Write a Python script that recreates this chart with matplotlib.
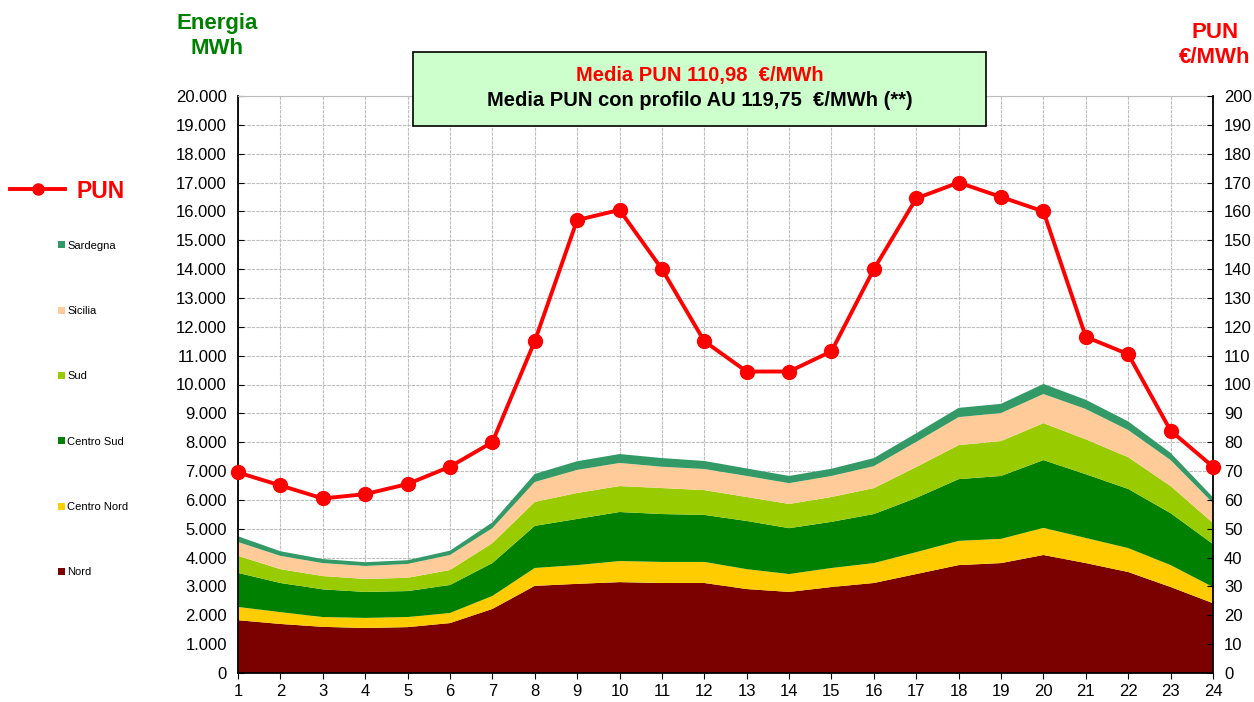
import numpy as np
import matplotlib
matplotlib.use("Agg")
import matplotlib.pyplot as plt
from matplotlib.lines import Line2D
from matplotlib.patches import Patch, Rectangle
from matplotlib.ticker import FuncFormatter, MultipleLocator

plt.rcParams['font.family'] = ['Liberation Sans', 'DejaVu Sans']

# dati
ore = list(range(1, 25))
nord = [1830, 1700, 1600, 1560, 1590, 1730, 2220, 3020, 3090, 3150, 3120, 3120,
        2910, 2810, 2980, 3120, 3430, 3740, 3810, 4090, 3810, 3500, 2980, 2420]
centro_nord = [460, 410, 340, 350, 350, 350, 450, 620, 650, 730, 730, 730,
               690, 620, 660, 690, 760, 840, 840, 940, 870, 830, 760, 560]
centro_sud = [1180, 1010, 960, 900, 900, 970, 1140, 1460, 1600, 1700, 1660, 1630,
              1670, 1590, 1600, 1700, 1880, 2140, 2180, 2350, 2210, 2050, 1800, 1490]
sud = [590, 480, 460, 450, 460, 520, 690, 830, 900, 900, 900, 860,
       830, 840, 860, 900, 1070, 1180, 1210, 1280, 1210, 1100, 940, 730]
sicilia = [480, 460, 450, 450, 480, 520, 520, 690, 800, 800, 740, 730,
           730, 720, 730, 760, 870, 970, 970, 1010, 1050, 940, 900, 690]
sardegna = [200, 160, 140, 130, 130, 150, 200, 280, 300, 310, 300, 280,
            260, 250, 250, 280, 300, 320, 320, 350, 320, 300, 250, 200]
pun = [69.5, 65.0, 60.5, 62.0, 65.5, 71.5, 80.0, 115.0, 157.0, 160.5, 140.0, 115.0,
       104.5, 104.5, 111.5, 140.0, 164.5, 170.0, 165.0, 160.0, 116.5, 110.5, 84.0, 71.5]

zone = ['Nord', 'Centro Nord', 'Centro Sud', 'Sud', 'Sicilia', 'Sardegna']
colori = ['#7B0000', '#FFCC00', '#008000', '#99CC00', '#FFCC99', '#339966']

fig = plt.figure(figsize=(12.54, 7.02), dpi=100)
ax = fig.add_axes([238/1254, 1-673/702, (1213-238)/1254, (673-96)/702])

ax.stackplot(ore, nord, centro_nord, centro_sud, sud, sicilia, sardegna,
             colors=colori, linewidth=0, zorder=2)
ax.set_xlim(1, 24)
ax.set_ylim(0, 20000)
ax.yaxis.set_major_locator(MultipleLocator(1000))
ax.yaxis.set_major_formatter(FuncFormatter(lambda v, p: f"{int(v):,}".replace(',', '.')))
ax.set_xticks(ore)
ax.grid(True, color='#bdbdbd', linewidth=0.8, linestyle=(0, (3, 1)), zorder=0)
ax.set_axisbelow(True)
ax.tick_params(axis='y', direction='in', length=4, labelsize=12, pad=8)
ax.tick_params(axis='x', direction='out', length=4, labelsize=12, pad=4)
for s in ['left', 'bottom']:
    ax.spines[s].set_linewidth(1.3)
ax.spines['top'].set_color('#bdbdbd')
ax.spines['right'].set_visible(False)

ax2 = ax.twinx()
ax2.plot(ore, pun, color='#FF0000', linewidth=2.8, marker='o', markersize=10,
         clip_on=False, zorder=5)
ax2.set_ylim(0, 200)
ax2.yaxis.set_major_locator(MultipleLocator(10))
ax2.tick_params(axis='y', direction='in', length=4, labelsize=12, pad=8)
ax2.spines['right'].set_linewidth(1.3)
ax2.spines['top'].set_visible(False)
ax2.spines['left'].set_visible(False)
ax2.spines['bottom'].set_visible(False)

# titoli assi
fig.text(217/1254, 1-36/702, "Energia\nMWh", color='#008000', fontsize=16,
         fontweight='bold', ha='center', va='center', linespacing=1.25)
fig.text(1215/1254, 1-45/702, "PUN\n€/MWh", color='#FF0000', fontsize=16,
         fontweight='bold', ha='center', va='center', linespacing=1.3)

# riquadro medie
box = Rectangle((413/1254, 1-126/702), (986-413)/1254, (126-52)/702,
                transform=fig.transFigure, facecolor='#CCFFCC', edgecolor='black',
                linewidth=1.2, zorder=10)
fig.add_artist(box)
fig.text(700/1254, 1-76/702, "Media PUN 110,98  €/MWh", color='#FF0000',
         fontsize=14.5, fontweight='bold', ha='center', va='center', zorder=11)
fig.text(700/1254, 1-101/702, "Media PUN con profilo AU 119,75  €/MWh (**)", color='black',
         fontsize=14.5, fontweight='bold', ha='center', va='center', zorder=11)

# legende
h_pun = Line2D([0], [0], color='#FF0000', linewidth=2.8, marker='o', markersize=8)
fig.legend([h_pun], ['PUN'], loc='center left', bbox_to_anchor=(10/1254, 1-191/702),
           frameon=False, handlelength=2.4, handletextpad=0.5, borderpad=0,
           borderaxespad=0, labelcolor='#FF0000',
           prop={'size': 16.5, 'weight': 'bold'})

patches = [Patch(facecolor=c, edgecolor='none') for c in colori][::-1]
fig.legend(patches, zone[::-1], loc='center left', bbox_to_anchor=(58/1254, 1-409/702),
           frameon=False, handlelength=0.6, handleheight=0.6, handletextpad=0.25,
           labelspacing=4.98, borderpad=0, borderaxespad=0, fontsize=8)

fig.savefig("out.png", dpi=100)
